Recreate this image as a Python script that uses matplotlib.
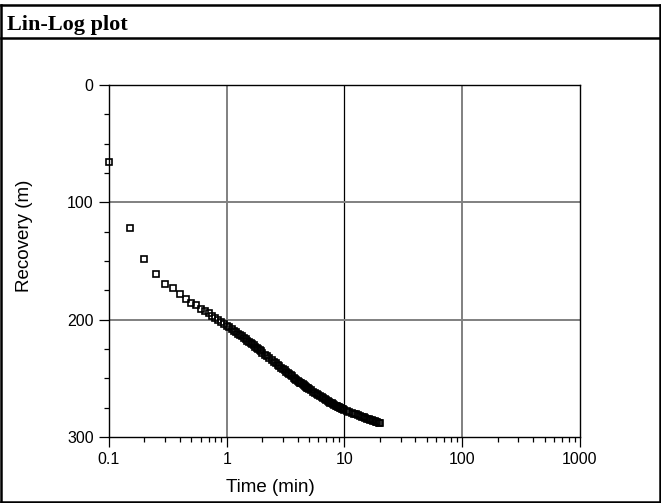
import numpy as np
import matplotlib
matplotlib.use("Agg")
import matplotlib.pyplot as plt
from matplotlib.lines import Line2D
from matplotlib.ticker import LogLocator, MultipleLocator, FixedLocator, FixedFormatter

# Data
time_min = [
    0.10, 0.15, 0.20, 0.25, 0.30, 0.35, 0.40, 0.45, 0.50, 0.55,
    0.60, 0.65, 0.70, 0.75, 0.80, 0.85, 0.90, 0.95, 1.00, 1.05,
    1.10, 1.15, 1.20, 1.25, 1.30, 1.35, 1.40, 1.45, 1.50, 1.55,
    1.60, 1.65, 1.70, 1.75, 1.80, 1.85, 1.90, 1.95, 2.00,
    2.1, 2.2, 2.3, 2.4, 2.5, 2.6, 2.7, 2.8, 2.9, 3.0,
    3.1, 3.2, 3.3, 3.4, 3.5, 3.6, 3.7, 3.8, 3.9, 4.0,
    4.1, 4.2, 4.3, 4.4, 4.5, 4.6, 4.7, 4.8, 4.9, 5.0,
    5.2, 5.4, 5.6, 5.8, 6.0, 6.2, 6.4, 6.6, 6.8, 7.0,
    7.2, 7.4, 7.6, 7.8, 8.0, 8.2, 8.4, 8.6, 8.8, 9.0,
    9.2, 9.4, 9.6, 9.8, 10.0,
    10.5, 11.0, 11.5, 12.0, 12.5, 13.0, 13.5, 14.0, 14.5, 15.0,
    15.5, 16.0, 16.5, 17.0, 17.5, 18.0, 18.5, 19.0, 19.5, 20.0,
]
recovery_m = [
    66.0, 122.0, 148.0, 161.5, 170.0, 173.0, 178.5, 182.5, 185.5, 187.5,
    190.5, 192.5, 194.5, 196.5, 198.5, 200.5, 202.0, 203.5, 205.0, 206.5,
    208.0, 209.3, 210.6, 211.9, 213.1, 214.3, 215.5, 216.7, 218.0, 219.0,
    220.0, 221.0, 222.0, 223.0, 224.0, 225.0, 226.0, 227.0, 228.0,
    229.7, 231.3, 232.9, 234.4, 235.8, 237.2, 238.5, 239.8, 241.0, 242.2,
    243.3, 244.4, 245.5, 246.5, 247.5, 248.4, 249.3, 250.2, 251.1, 252.0,
    252.8, 253.6, 254.4, 255.1, 255.8, 256.5, 257.2, 257.9, 258.5, 259.1,
    260.3, 261.4, 262.5, 263.5, 264.5, 265.4, 266.3, 267.1, 267.9, 268.7,
    269.4, 270.1, 270.8, 271.4, 272.0, 272.6, 273.2, 273.7, 274.2, 274.7,
    275.2, 275.6, 276.0, 276.4, 276.8,
    277.7, 278.5, 279.3, 280.0, 280.7, 281.4, 282.0, 282.6, 283.2, 283.8,
    284.3, 284.8, 285.3, 285.8, 286.3, 286.7, 287.1, 287.5, 287.9, 288.3,
]

x_ticks = [0.1, 1, 10, 100, 1000]
x_tick_labels = ["0.1", "1", "10", "100", "1000"]
y_ticks = [0, 100, 200, 300]

W, H = 661, 503
fig = plt.figure(figsize=(W / 100, H / 100), dpi=100)

# axes box in pixels: x 109..580, y 85..437
ax = fig.add_axes([109 / W, 1 - 437 / H, (580 - 109) / W, (437 - 85) / H])
ax.set_xscale("log")
ax.set_xlim(0.1, 1000)
ax.set_ylim(300, 0)

# grid lines (the 10 min line is drawn darker in the reference)
for xv, col, lw in [(1, "#808080", 1.4), (10, "black", 0.9), (100, "#808080", 1.4)]:
    ax.axvline(xv, color=col, lw=lw, zorder=1)
for yv in [100, 200]:
    ax.axhline(yv, color="#808080", lw=1.4, zorder=1)

ax.plot(time_min, recovery_m, linestyle="none", marker="s", markersize=3.7,
        markerfacecolor="none", markeredgecolor="black", markeredgewidth=1.2,
        zorder=3, clip_on=False)

ax.xaxis.set_major_locator(FixedLocator(x_ticks))
ax.xaxis.set_major_formatter(FixedFormatter(x_tick_labels))
ax.xaxis.set_minor_locator(LogLocator(base=10, subs=np.arange(2, 10), numticks=20))
ax.yaxis.set_major_locator(FixedLocator(y_ticks))
ax.yaxis.set_minor_locator(MultipleLocator(25))

for lab in ax.get_xticklabels() + ax.get_yticklabels():
    lab.set_fontfamily("Liberation Sans")
    lab.set_fontsize(11.5)
ax.tick_params(which="major", direction="out", length=7, width=0.9, pad=4, colors="black")
ax.tick_params(which="minor", direction="out", length=3.5, width=0.9)
for sp in ax.spines.values():
    sp.set_linewidth(1.0)
    sp.set_color("black")

ax.set_xlabel("Time (min)", fontsize=13.5, family="Liberation Sans")
ax.xaxis.set_label_coords((270 - 109) / 471, -(479 - 437) / 352)
ax.set_ylabel("Recovery (m)", fontsize=13.5, family="Liberation Sans")
ax.yaxis.set_label_coords(-(109 - 33) / 471, (437 - 236) / 352)

# outer frame and title band
def hline(y, x0=1, x1=660):
    fig.add_artist(Line2D([x0 / W, x1 / W], [1 - y / H, 1 - y / H], color="black", lw=1.8))

def vline(x, y0=5, y1=501.5):
    fig.add_artist(Line2D([x / W, x / W], [1 - y0 / H, 1 - y1 / H], color="black", lw=1.8))

hline(5)
hline(38)
hline(501.5)
vline(1)
vline(660)

fig.text(7 / W, 1 - 30 / H, "Lin-Log plot", fontsize=16, fontweight="bold",
         family="Liberation Serif", ha="left", va="baseline")

fig.savefig("out.png", dpi=100)
